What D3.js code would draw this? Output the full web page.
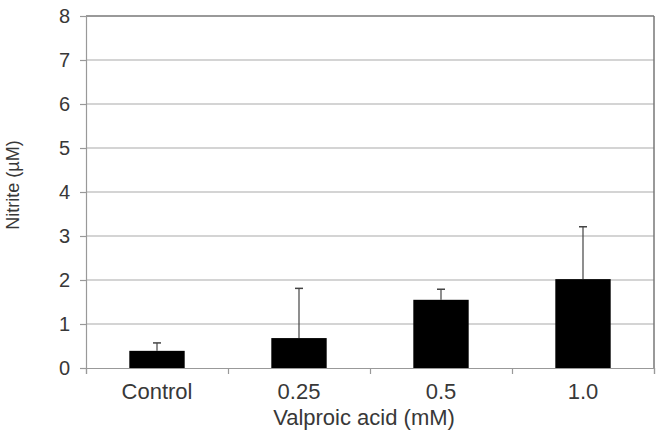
<!DOCTYPE html>
<html>
<head>
<meta charset="utf-8">
<script src="https://cdn.jsdelivr.net/npm/d3@7"></script>
<style>
  body { margin: 0; background: #fff; }
  text { font-family: "Liberation Sans", Arial, sans-serif; fill: #383838; }
</style>
</head>
<body>
<svg id="chart" width="658" height="432"></svg>
<script>
// chart data
const categories = ["Control", "0.25", "0.5", "1.0"];
const means = [0.39, 0.68, 1.55, 2.02];
const errUpper = [0.57, 1.81, 1.79, 3.21];
const yTicks = [0, 1, 2, 3, 4, 5, 6, 7, 8];

const margin = { top: 16, right: 4, bottom: 64, left: 86 };
const width = 658 - margin.left - margin.right;
const height = 432 - margin.top - margin.bottom;

let svg = d3.select("#chart");
let g = svg.append("g")
    .attr("transform", `translate(${margin.left},${margin.top})`);

let x = d3.scaleBand()
    .domain(categories)
    .range([0, width])
    .paddingInner(0.61)
    .paddingOuter(0.305);

let y = d3.scaleLinear()
    .domain([0, 8])
    .range([height, 0]);

// horizontal grid lines
g.selectAll(".grid")
    .data(yTicks.slice(1))
    .join("line")
    .attr("x1", 0)
    .attr("x2", width)
    .attr("y1", d => y(d))
    .attr("y2", d => y(d))
    .attr("stroke", d => d == 8 ? "#777" : "#aaa")
    .attr("stroke-width", d => d == 8 ? 1.5 : 1.2);

// right border
g.append("line")
    .attr("x1", width).attr("x2", width)
    .attr("y1", 0).attr("y2", height)
    .attr("stroke", "#777")
    .attr("stroke-width", 1.5);

// y axis
let yAxis = g.append("g")
    .call(d3.axisLeft(y).tickValues(yTicks).tickSize(6).tickPadding(10));
yAxis.select(".domain").attr("stroke", "#999").attr("stroke-width", 1.2);
yAxis.selectAll(".tick line").attr("stroke", "#999").attr("stroke-width", 1.2);
yAxis.selectAll(".tick text")
    .style("font-size", "20px")
    .attr("fill", "#383838");

// x axis with ticks between categories
let xEdges = d3.scaleLinear().domain([0, categories.length]).range([0, width]);
let xAxis = g.append("g")
    .attr("transform", `translate(0,${height})`)
    .call(d3.axisBottom(xEdges).ticks(categories.length).tickSize(6).tickFormat(""));
xAxis.select(".domain").attr("stroke", "#999").attr("stroke-width", 1.2);
xAxis.selectAll(".tick line").attr("stroke", "#999").attr("stroke-width", 1.2);

g.selectAll(".cat-label")
    .data(categories)
    .join("text")
    .attr("class", "cat-label")
    .attr("x", d => x(d) + x.bandwidth() / 2)
    .attr("y", height + 31)
    .attr("text-anchor", "middle")
    .style("font-size", "22px")
    .text(d => d);

// error bars (upper only)
let errData = categories.map((c, i) => ({ cat: c, mean: means[i], top: errUpper[i] }));

g.selectAll(".err")
    .data(errData)
    .join("line")
    .attr("x1", d => x(d.cat) + x.bandwidth() / 2)
    .attr("x2", d => x(d.cat) + x.bandwidth() / 2)
    .attr("y1", d => y(d.mean))
    .attr("y2", d => y(d.top))
    .attr("stroke", "#444")
    .attr("stroke-width", 1.2);

g.selectAll(".cap")
    .data(errData)
    .join("line")
    .attr("x1", d => x(d.cat) + x.bandwidth() / 2 - 4)
    .attr("x2", d => x(d.cat) + x.bandwidth() / 2 + 4)
    .attr("y1", d => y(d.top))
    .attr("y2", d => y(d.top))
    .attr("stroke", "#444")
    .attr("stroke-width", 1.5);

// bars
g.selectAll(".bar")
    .data(errData)
    .join("rect")
    .attr("x", d => x(d.cat))
    .attr("y", d => y(d.mean))
    .attr("width", x.bandwidth())
    .attr("height", d => height - y(d.mean))
    .attr("fill", "#000");

// axis titles
svg.append("text")
    .attr("transform", `translate(19,185) rotate(-90)`)
    .attr("text-anchor", "middle")
    .style("font-size", "18px")
    .text("Nitrite (µM)");

svg.append("text")
    .attr("x", 364)
    .attr("y", 425)
    .attr("text-anchor", "middle")
    .style("font-size", "22px")
    .text("Valproic acid (mM)");
</script>
</body>
</html>
